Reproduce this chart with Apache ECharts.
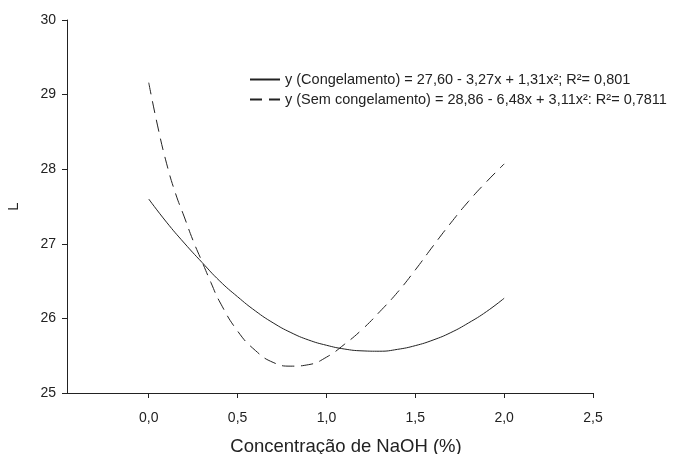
<!DOCTYPE html>
<html>
<head>
<meta charset="utf-8">
<script src="https://cdn.jsdelivr.net/npm/echarts@6/dist/echarts.min.js"></script>
<style>
  html, body { margin: 0; padding: 0; background: #fff; }
  #chart { width: 679px; height: 454px; }
</style>
</head>
<body>
<div id="chart"></div>
<script>
// valores
const xTicks = [0, 0.5, 1, 1.5, 2, 2.5]
const yTicks = [25, 26, 27, 28, 29, 30]

const xCong = [0, 0.1, 0.2, 0.3, 0.4, 0.5, 0.6, 0.7, 0.8, 0.9, 1.0, 1.1, 1.2, 1.3, 1.4, 1.5, 1.6, 1.7, 1.8, 1.9, 2.0]
const yCong = [27.60, 27.29, 27.01, 26.75, 26.50, 26.29, 26.10, 25.94, 25.81, 25.71, 25.64, 25.59, 25.565, 25.56, 25.585, 25.635, 25.71, 25.81, 25.94, 26.09, 26.27]

const xSem = [0, 0.05, 0.1, 0.15, 0.2, 0.25, 0.3, 0.35, 0.4, 0.5, 0.6, 0.7, 0.8, 0.9, 1.0, 1.1, 1.2, 1.3, 1.4, 1.5, 1.6, 1.7, 1.8, 1.9, 2.0]
const ySem = [29.16, 28.58, 28.08, 27.68, 27.36, 27.04, 26.76, 26.48, 26.22, 25.83, 25.57, 25.41, 25.36, 25.38, 25.48, 25.65, 25.85, 26.09, 26.35, 26.65, 26.97, 27.28, 27.57, 27.83, 28.07]

const nameCong = 'y (Congelamento) = 27,60 - 3,27x + 1,31x²; R²= 0,801'
const nameSem = 'y (Sem congelamento) = 28,86 - 6,48x + 3,11x²: R²= 0,7811'

const pairs = (xs, ys) => xs.map((x, i) => [x, ys[i]])

const ink = '#222'
const font = 'Liberation Sans, Arial, sans-serif'
const dash = [12, 7]

const chart = echarts.init(document.getElementById('chart'))
chart.setOption({
  animation: false,
  backgroundColor: '#fff',
  textStyle: { fontFamily: font },
  grid: { left: 67, right: 86, top: 20, bottom: 61, outerBoundsMode: 'none', containLabel: false },
  legend: {
    orient: 'vertical',
    left: 244,
    top: 67,
    itemWidth: 30,
    itemHeight: 12,
    itemGap: 5,
    itemStyle: { opacity: 0 },
    textStyle: { color: ink, fontSize: 14.5, fontFamily: font },
    data: [
      { name: nameCong, lineStyle: { type: 'solid' } },
      { name: nameSem, lineStyle: { type: dash } }
    ]
  },
  xAxis: {
    type: 'value',
    min: -0.46,
    max: 2.5,
    splitLine: { show: false },
    axisLine: { onZero: false, lineStyle: { color: ink, width: 1 } },
    axisTick: { show: true, length: 5, customValues: xTicks, lineStyle: { color: ink } },
    axisLabel: {
      customValues: xTicks,
      color: ink,
      fontSize: 14,
      margin: 18,
      formatter: v => v.toFixed(1).replace('.', ',')
    },
    name: 'Concentração de NaOH (%)',
    nameLocation: 'middle',
    nameGap: 44,
    nameTextStyle: { color: ink, fontSize: 18.5, padding: [0, 0, 0, 32] }
  },
  yAxis: {
    type: 'value',
    min: 25,
    max: 30,
    interval: 1,
    splitLine: { show: false },
    axisLine: { show: true, onZero: false, lineStyle: { color: ink, width: 1 } },
    axisTick: { show: true, length: 5, customValues: yTicks, lineStyle: { color: ink } },
    axisLabel: { color: ink, fontSize: 14, margin: 11 },
    name: 'L',
    nameLocation: 'middle',
    nameGap: 46,
    nameTextStyle: { color: ink, fontSize: 15 }
  },
  series: [
    {
      name: nameCong,
      type: 'line',
      data: pairs(xCong, yCong),
      smooth: true,
      symbol: 'none',
      lineStyle: { color: ink, width: 1 },
      itemStyle: { color: ink }
    },
    {
      name: nameSem,
      type: 'line',
      data: pairs(xSem, ySem),
      smooth: true,
      symbol: 'none',
      lineStyle: { color: ink, width: 1, type: dash },
      itemStyle: { color: ink }
    }
  ]
})
</script>
</body>
</html>
